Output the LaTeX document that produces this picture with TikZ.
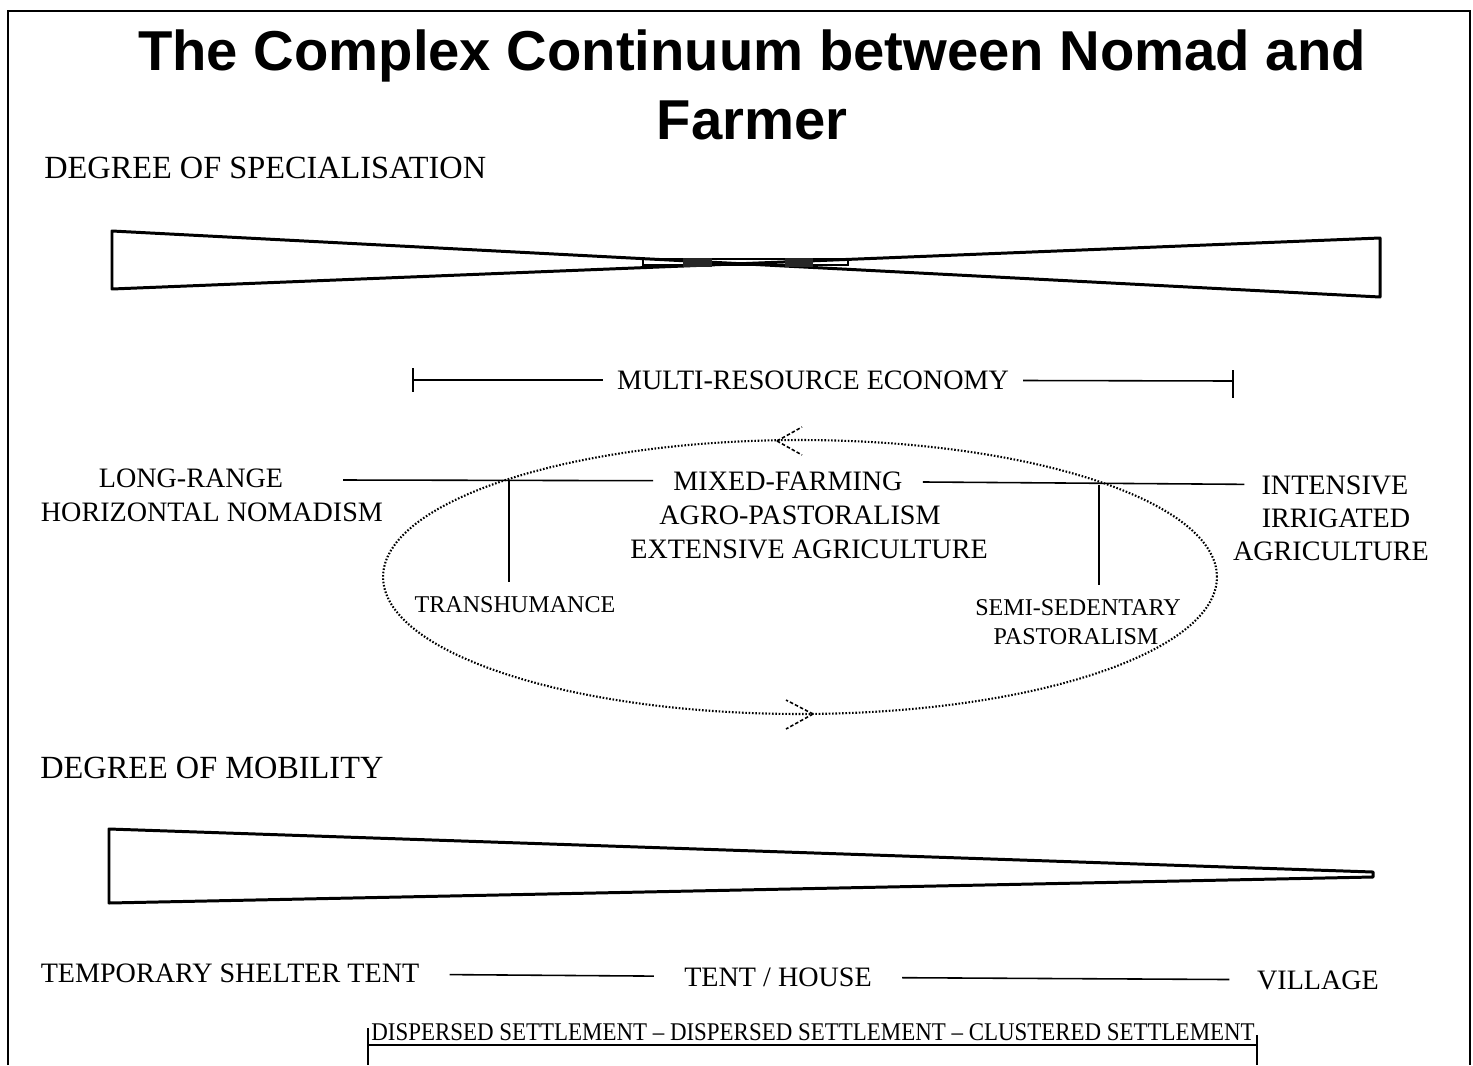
\documentclass[tikz,border=0pt]{standalone}
\usepackage{fontspec}
\setmainfont{Liberation Serif}
\newfontfamily\headfont{Liberation Sans}
\tikzset{
    bar/.style={line width=1.7pt, line join=round},
    rule/.style={line width=0.9pt},
    dotline/.style={line width=1.2pt, dash pattern=on 0.9pt off 1pt},
    barb/.style={line width=0.9pt, dash pattern=on 2pt off 1.2pt},
    lbl/.style={font=\fontsize{16}{19}\selectfont, inner sep=0pt, text depth=0pt},
    head/.style={font=\fontsize{18.4}{21}\selectfont, inner sep=0pt, text depth=0pt, anchor=west},
    small/.style={font=\fontsize{13.7}{16}\selectfont, inner sep=0pt, text depth=0pt},
    title/.style={font=\headfont\bfseries\fontsize{32}{38}\selectfont, inner sep=0pt, anchor=base}
}
\begin{document}
\begin{tikzpicture}[x=0.02cm,y=-0.02cm]
        \useasboundingbox (0,0) rectangle (1473,1065);
        \draw[line width=0.8pt] (8,1065) -- (8,11) -- (1470,11) -- (1470,1065);

        \node[title] (title1) at (752,70) {The Complex Continuum between Nomad and};
        \node[title] (title2) at (752,139) {Farmer};

        \node[head] (spec) at (44,168) {DEGREE OF SPECIALISATION};
        \draw[bar] (112,231) -- (1380,297) -- (1380,238) -- (112,289) -- cycle;
        \draw[line width=0.8pt] (643,259) rectangle (848,265);
        \fill[black!85] (683,258) rectangle (712,267);
        \fill[black!85] (785,258) rectangle (813,267);

        \node[lbl, inner xsep=0.28cm] (mre) at (813,380) {MULTI-RESOURCE ECONOMY};
        \coordinate (mreA) at (413,380);
        \coordinate (mreB) at (1233,381);
        \draw[rule] (mreA) -- (mre);
        \draw[rule] (mre) -- (mreB);
        \draw[rule] (mreA) ++(0,-12) -- ++(0,24);
        \draw[rule] (mreB) ++(0,-11) -- ++(0,28);

        \draw[dotline] (800,577) ellipse [x radius=8.34cm, y radius=2.74cm];
        \coordinate (arT) at (777,441);
        \draw[barb] (arT) -- ++(25,-14);
        \draw[barb] (arT) -- ++(25,14);
        \coordinate (arB) at (813,714);
        \draw[barb] (arB) -- ++(-27,-14);
        \draw[barb] (arB) -- ++(-27,15);

        \node[lbl] (lr1) at (191,478) {LONG-RANGE};
        \node[lbl] (lr2) at (212,512) {HORIZONTAL NOMADISM};
        \node[lbl, inner xsep=0.4cm] (mix) at (788,481) {MIXED-FARMING};
        \node[lbl] (agro) at (800,515) {AGRO-PASTORALISM};
        \node[lbl] (ext) at (809,549) {EXTENSIVE AGRICULTURE};
        \node[lbl, inner xsep=0.34cm] (int) at (1335,485) {INTENSIVE};
        \node[lbl] (irr) at (1336,518) {IRRIGATED};
        \node[lbl] (agr) at (1331,551) {AGRICULTURE};
        \coordinate (lrA) at (343,480);
        \draw[rule] (lrA) -- (mix);
        \draw[rule] (mix) -- (int);

        \node[small] (trans) at (515,605) {TRANSHUMANCE};
        \node[small] (semi) at (1078,608) {SEMI-SEDENTARY};
        \node[small] (past) at (1076,637) {PASTORALISM};
        \coordinate (tr) at (509,480);
        \coordinate (ss) at (1099,485);
        \draw[rule, shorten >=0.3cm] (tr) -- (tr |- trans.north);
        \draw[rule, shorten >=0.3cm] (ss) -- (ss |- semi.north);

        \node[head] (mob) at (40,768) {DEGREE OF MOBILITY};
        \draw[bar] (109,829) -- (1373,872) -- (1373,877) -- (109,903) -- cycle;

        \node[lbl, inner xsep=0.6cm] (tent) at (230,973) {TEMPORARY SHELTER TENT};
        \node[lbl, inner xsep=0.6cm] (house) at (778,977) {TENT / HOUSE};
        \node[lbl, inner xsep=0.55cm] (vil) at (1318,980) {VILLAGE};
        \draw[rule] (tent) -- (house);
        \draw[rule] (house) -- (vil);

        \node[small, font=\fontsize{14.5}{17}\selectfont] (settle) at (813,1032) {\scalebox{0.9}[1]{DISPERSED SETTLEMENT -- DISPERSED SETTLEMENT -- CLUSTERED SETTLEMENT}};
        \coordinate (setA) at (368,1045);
        \coordinate (setB) at (1257,1045);
        \draw[rule] (setA) -- (setB);
        \draw[rule] (setA) ++(0,-17) -- ++(0,37);
        \draw[rule] (setB) ++(0,-10) -- ++(0,30);
    \end{tikzpicture}
\end{document}
